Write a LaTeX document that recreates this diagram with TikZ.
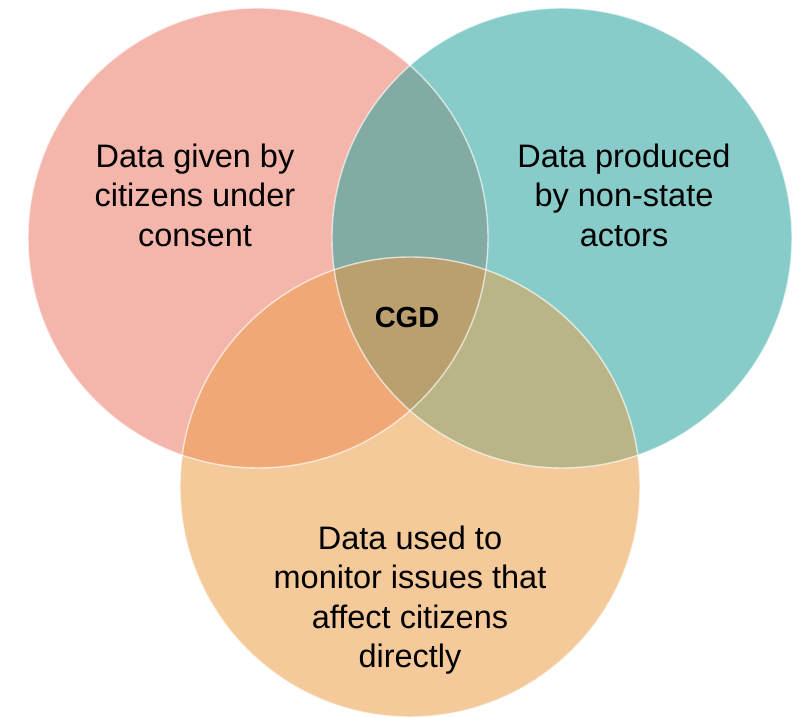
\documentclass[tikz,border=0pt]{standalone}
\usepackage{fontspec}
\setmainfont{Liberation Sans}

\definecolor{givenfill}{HTML}{F4B5AB}
\definecolor{actorfill}{HTML}{88CCCA}
\definecolor{issuefill}{HTML}{F5CA9B}
\definecolor{givenactor}{HTML}{82ABA3}
\definecolor{givenissue}{HTML}{F0A877}
\definecolor{actorissue}{HTML}{BAB587}
\definecolor{cgdfill}{HTML}{BBA06F}

\tikzset{
    rim/.style={draw=white, draw opacity=0.65, line width=1.4pt},
    setlabel/.style={align=center, inner sep=0pt,
        font=\fontsize{32.5}{39.5}\selectfont},
    corelabel/.style={inner sep=0pt, font=\fontsize{29}{35}\selectfont\bfseries}
}

\begin{document}
\begin{tikzpicture}[x=1pt, y=1pt]
    \useasboundingbox (0,0) rectangle (797,717);

    % Centres of the three sets
    \coordinate (given) at (258,479);
    \coordinate (actor) at (562,479);
    \coordinate (issue) at (410,230);

    % Discs
    \fill[givenfill] (given) circle (230pt);
    \fill[actorfill] (actor) circle (230pt);
    \fill[issuefill] (issue) circle (230pt);

    % Overlaps
    \begin{scope}
        \clip (given) circle (230pt);
        \fill[givenactor] (actor) circle (230pt);
        \fill[givenissue] (issue) circle (230pt);
    \end{scope}
    \begin{scope}
        \clip (actor) circle (230pt);
        \fill[actorissue] (issue) circle (230pt);
    \end{scope}
    \begin{scope}
        \clip (given) circle (230pt);
        \clip (actor) circle (230pt);
        \fill[cgdfill] (issue) circle (230pt);
    \end{scope}

    % Rims
    \draw[rim] (given) circle (230pt);
    \draw[rim] (actor) circle (230pt);
    \draw[rim] (issue) circle (230pt);

    % Labels
    \node[setlabel] (givenlbl) at (195,522) {Data given by\\citizens under\\consent};
    \node[setlabel] (actorlbl) at (624,522) {Data produced\\by non-state\\actors};
    \node[setlabel] (issuelbl) at (410,117) {Data used to\\monitor issues that\\affect citizens\\directly};
    \node[corelabel] (cgd) at (407,399) {CGD};
\end{tikzpicture}
\end{document}
